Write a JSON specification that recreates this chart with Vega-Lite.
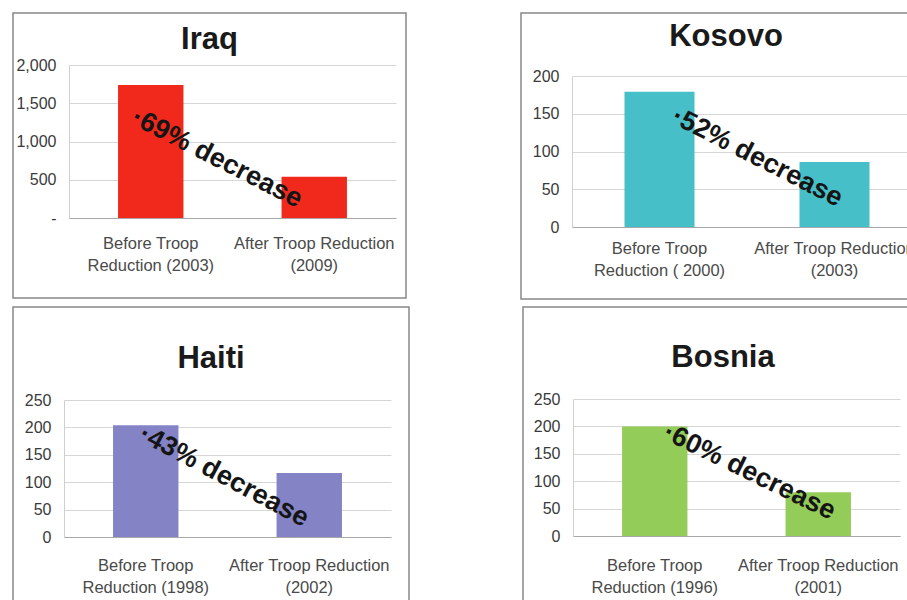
{
  "$schema": "https://vega.github.io/schema/vega-lite/v6.json",
  "background": "white",
  "padding": {"left": 12, "top": 12, "right": 0, "bottom": 0},
  "datasets": {
    "bars": [
      {"country": "Iraq", "period": "Before Troop Reduction (2003)", "value": 1740},
      {"country": "Iraq", "period": "After Troop Reduction (2009)", "value": 540},
      {"country": "Kosovo", "period": "Before Troop Reduction ( 2000)", "value": 179},
      {"country": "Kosovo", "period": "After Troop Reduction (2003)", "value": 86},
      {"country": "Haiti", "period": "Before Troop Reduction (1998)", "value": 204},
      {"country": "Haiti", "period": "After Troop Reduction (2002)", "value": 117},
      {"country": "Bosnia", "period": "Before Troop Reduction (1996)", "value": 200},
      {"country": "Bosnia", "period": "After Troop Reduction (2001)", "value": 80}
    ],
    "notes": [
      {"country": "Iraq", "label": "·69% decrease"},
      {"country": "Kosovo", "label": "·52% decrease"},
      {"country": "Haiti", "label": "·43% decrease"},
      {"country": "Bosnia", "label": "·60% decrease"}
    ]
  },
  "spacing": 6,
  "vconcat": [
    {
      "spacing": 113,
      "hconcat": [
        {
          "width": 393,
          "height": 285,
          "title": {"text": "Iraq", "offset": -43},
          "layer": [
            {
              "data": {"name": "bars"},
              "transform": [{"filter": "datum.country === 'Iraq'"}],
              "mark": {"type": "bar", "color": "#f1291c"},
              "encoding": {
                "x": {
                  "field": "period", "type": "nominal",
                  "scale": {"domain": ["Before Troop Reduction (2003)", "After Troop Reduction (2009)"], "range": [56, 383], "paddingInner": 0.6, "paddingOuter": 0.3},
                  "axis": {"title": null, "orient": "bottom", "offset": -80, "labelPadding": 17,
                    "labelExpr": "indexof(datum.value, 'Before') === 0 ? [slice(datum.value, 0, 12), slice(datum.value, 13)] : [slice(datum.value, 0, 21), slice(datum.value, 22)]"}
                },
                "y": {
                  "field": "value", "type": "quantitative",
                  "scale": {"domain": [0, 2000], "range": [205, 52], "nice": false},
                  "axis": {"title": null, "offset": -56, "values": [0, 500, 1000, 1500, 2000],
                    "labelExpr": "datum.value === 0 ? '-' : format(datum.value, ',')"}
                }
              }
            },
            {
              "data": {"name": "notes"},
              "transform": [{"filter": "datum.country === 'Iraq'"}],
              "mark": {"type": "text", "angle": 27, "align": "center", "baseline": "middle", "fontSize": 27, "fontWeight": "bold", "color": "#151515", "dx": 59, "dy": -30},
              "encoding": {
                "x": {"datum": "Before Troop Reduction (2003)", "type": "nominal"},
                "y": {"datum": 780, "type": "quantitative"},
                "text": {"field": "label"}
              }
            }
          ]
        },
        {
          "width": 410,
          "height": 286,
          "title": {"text": "Kosovo", "offset": -40},
          "layer": [
            {
              "data": {"name": "bars"},
              "transform": [{"filter": "datum.country === 'Kosovo'"}],
              "mark": {"type": "bar", "color": "#46bfc8"},
              "encoding": {
                "x": {
                  "field": "period", "type": "nominal",
                  "scale": {"domain": ["Before Troop Reduction ( 2000)", "After Troop Reduction (2003)"], "range": [51, 401], "paddingInner": 0.6, "paddingOuter": 0.3},
                  "axis": {"title": null, "orient": "bottom", "offset": -72, "labelPadding": 13,
                    "labelExpr": "indexof(datum.value, 'Before') === 0 ? [slice(datum.value, 0, 12), slice(datum.value, 13)] : [slice(datum.value, 0, 21), slice(datum.value, 22)]"}
                },
                "y": {
                  "field": "value", "type": "quantitative",
                  "scale": {"domain": [0, 200], "range": [214, 63], "nice": false},
                  "axis": {"title": null, "offset": -51, "values": [0, 50, 100, 150, 200], "format": ",d"}
                }
              }
            },
            {
              "data": {"name": "notes"},
              "transform": [{"filter": "datum.country === 'Kosovo'"}],
              "mark": {"type": "text", "angle": 27, "align": "center", "baseline": "middle", "fontSize": 27, "fontWeight": "bold", "color": "#151515", "dx": 87, "dy": -44.5},
              "encoding": {
                "x": {"datum": "Before Troop Reduction ( 2000)", "type": "nominal"},
                "y": {"datum": 92, "type": "quantitative"},
                "text": {"field": "label"}
              }
            }
          ]
        }
      ]
    },
    {
      "spacing": 112,
      "hconcat": [
        {
          "width": 396,
          "height": 310,
          "title": {"text": "Haiti", "offset": -68},
          "layer": [
            {
              "data": {"name": "bars"},
              "transform": [{"filter": "datum.country === 'Haiti'"}],
              "mark": {"type": "bar", "color": "#8383c6"},
              "encoding": {
                "x": {
                  "field": "period", "type": "nominal",
                  "scale": {"domain": ["Before Troop Reduction (1998)", "After Troop Reduction (2002)"], "range": [51, 378], "paddingInner": 0.6, "paddingOuter": 0.3},
                  "axis": {"title": null, "orient": "bottom", "offset": -80, "labelPadding": 20,
                    "labelExpr": "indexof(datum.value, 'Before') === 0 ? [slice(datum.value, 0, 12), slice(datum.value, 13)] : [slice(datum.value, 0, 21), slice(datum.value, 22)]"}
                },
                "y": {
                  "field": "value", "type": "quantitative",
                  "scale": {"domain": [0, 250], "range": [230, 93], "nice": false},
                  "axis": {"title": null, "offset": -51, "values": [0, 50, 100, 150, 200, 250], "format": ",d"}
                }
              }
            },
            {
              "data": {"name": "notes"},
              "transform": [{"filter": "datum.country === 'Haiti'"}],
              "mark": {"type": "text", "angle": 28, "align": "center", "baseline": "middle", "fontSize": 27, "fontWeight": "bold", "color": "#151515", "dx": 69, "dy": -36.7},
              "encoding": {
                "x": {"datum": "Before Troop Reduction (1998)", "type": "nominal"},
                "y": {"datum": 111, "type": "quantitative"},
                "text": {"field": "label"}
              }
            }
          ]
        },
        {
          "width": 400,
          "height": 310,
          "title": {"text": "Bosnia", "offset": -67},
          "layer": [
            {
              "data": {"name": "bars"},
              "transform": [{"filter": "datum.country === 'Bosnia'"}],
              "mark": {"type": "bar", "color": "#94cc59"},
              "encoding": {
                "x": {
                  "field": "period", "type": "nominal",
                  "scale": {"domain": ["Before Troop Reduction (1996)", "After Troop Reduction (2001)"], "range": [50, 377], "paddingInner": 0.6, "paddingOuter": 0.3},
                  "axis": {"title": null, "orient": "bottom", "offset": -81, "labelPadding": 21,
                    "labelExpr": "indexof(datum.value, 'Before') === 0 ? [slice(datum.value, 0, 12), slice(datum.value, 13)] : [slice(datum.value, 0, 21), slice(datum.value, 22)]"}
                },
                "y": {
                  "field": "value", "type": "quantitative",
                  "scale": {"domain": [0, 250], "range": [229, 92], "nice": false},
                  "axis": {"title": null, "offset": -50, "values": [0, 50, 100, 150, 200, 250], "format": ",d"}
                }
              }
            },
            {
              "data": {"name": "notes"},
              "transform": [{"filter": "datum.country === 'Bosnia'"}],
              "mark": {"type": "text", "angle": 26, "align": "center", "baseline": "middle", "fontSize": 27, "fontWeight": "bold", "color": "#151515", "dx": 85, "dy": -41.5},
              "encoding": {
                "x": {"datum": "Before Troop Reduction (1996)", "type": "nominal"},
                "y": {"datum": 117, "type": "quantitative"},
                "text": {"field": "label"}
              }
            }
          ]
        }
      ]
    }
  ],
  "config": {
    "font": "Liberation Sans",
    "view": {"stroke": "#888888", "strokeWidth": 1.5},
    "title": {"font": "Liberation Sans", "fontSize": 31, "fontWeight": "bold", "color": "#1a1a1a", "anchor": "middle", "frame": "group"},
    "axisX": {
      "labelFont": "Liberation Sans", "labelAngle": 0, "labelFontSize": 16.5, "labelColor": "#4a4a4a", "labelLineHeight": 22,
      "domainColor": "#a8a8a8", "ticks": false,
      "labelLimit": 300, "labelOverlap": false, "grid": false
    },
    "axisY": {
      "labelFont": "Liberation Sans", "grid": true, "gridColor": "#d6d6d6", "ticks": false, "labelPadding": 13,
      "domainColor": "#cfcfcf", "labelFontSize": 16, "labelColor": "#3a3a3a"
    },
    "text": {"font": "Liberation Sans"}
  }
}
